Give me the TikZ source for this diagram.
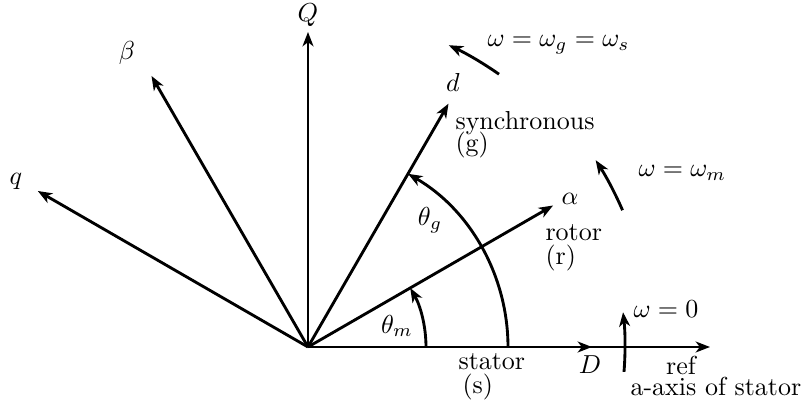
\documentclass[tikz,border=0pt]{standalone}
\usetikzlibrary{arrows.meta}
\begin{document}
\begin{tikzpicture}[x=0.3846pt,y=0.3846pt,
  vec/.style={line width=1.1pt,-{Stealth[length=5.5pt,width=4.2pt,inset=1.6pt]}},
  lbl/.style={inner sep=0pt},
  bl/.style={inner sep=0pt,anchor=base west}]
\useasboundingbox (-308,-55) rectangle (498,347);
\coordinate (O) at (0,0);
\coordinate (Dt) at (0:284);
\coordinate (Rt) at (0:402);
\coordinate (At) at (30:283);
\coordinate (dt) at (60:281);
\coordinate (Qt) at (90:315);
\coordinate (Bt) at (120:313);
\coordinate (qt) at (150:312);
\draw[vec] (O) -- (Rt);
\draw[vec] (O) -- (Dt);
\draw[vec] (O) -- (At);
\draw[vec] (O) -- (dt);
\draw[vec] (O) -- (Qt);
\draw[vec] (O) -- (Bt);
\draw[vec] (O) -- (qt);
% angle arcs
\draw[vec] (0:118) arc[start angle=0,end angle=30,radius=118];
\draw[vec] (0:200) arc[start angle=0,end angle=60,radius=200];
% rotation arrows
\draw[vec] (55:333) arc[start angle=55,end angle=65,radius=333];
\draw[vec] (23.5:343) arc[start angle=23.5,end angle=33,radius=343];
\draw[vec] (-4.5:317) arc[start angle=-4.5,end angle=6.3,radius=317];
% axis labels
\node[lbl] (lD) at (282,-18) {$D$};
\node[lbl] (lA) at (262,148) {$\alpha$};
\node[lbl] (ld) at (145,265) {$d$};
\node[lbl] (lQ) at (0,332) {$Q$};
\node[lbl] (lB) at (-181,294) {$\beta$};
\node[lbl] (lq) at (-292,166) {$q$};
\node[lbl] (tm) at (89,21) {$\theta_m$};
\node[lbl] (tg) at (122,127) {$\theta_g$};
% frame labels
\node[bl] (st) at (150,-23) {stator};
\node[bl] (st2) at (154,-47) {(s)};
\node[bl] (ro) at (237,106) {rotor};
\node[bl] (ro2) at (237,82) {(r)};
\node[bl] (sy) at (147,217) {synchronous};
\node[bl] (sy2) at (147,195) {(g)};
\node[lbl] (rf) at (373,-18) {ref};
\node[bl] (ax) at (322,-49) {a-axis of stator};
% speed labels
\node[bl] (w1) at (179,300) {$\omega=\omega_g=\omega_s$};
\node[bl] (w2) at (330,170) {$\omega=\omega_m$};
\node[bl] (w3) at (325,29) {$\omega=0$};
\end{tikzpicture}
\end{document}
